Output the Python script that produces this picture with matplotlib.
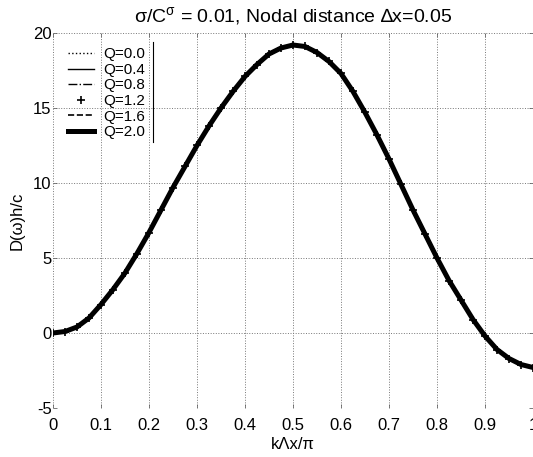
import numpy as np
import matplotlib
matplotlib.use("Agg")
import matplotlib.pyplot as plt
from matplotlib.lines import Line2D

plt.rcParams['font.family'] = ['Liberation Sans', 'DejaVu Sans']
plt.rcParams['mathtext.fontset'] = 'custom'
plt.rcParams['mathtext.rm'] = 'Liberation Sans'
plt.rcParams['mathtext.it'] = 'Liberation Sans'
plt.rcParams['axes.unicode_minus'] = False

# valeurs (toutes les courbes Q se superposent)
k_dx = [0.0, 0.025, 0.05, 0.075, 0.1, 0.125, 0.15, 0.175, 0.2, 0.225,
        0.25, 0.275, 0.3, 0.325, 0.35, 0.375, 0.4, 0.425, 0.45, 0.475,
        0.5, 0.525, 0.55, 0.575, 0.6, 0.625, 0.65, 0.675, 0.7, 0.725,
        0.75, 0.775, 0.8, 0.825, 0.85, 0.875, 0.9, 0.925, 0.95, 0.975, 1.0]
d_omega = [0.0, 0.1, 0.4, 1.0, 1.9, 2.9, 4.0, 5.3, 6.7, 8.2,
           9.7, 11.1, 12.5, 13.8, 15.0, 16.1, 17.1, 17.9, 18.6, 19.0,
           19.2, 19.1, 18.7, 18.1, 17.3, 16.1, 14.7, 13.2, 11.6, 9.9,
           8.2, 6.6, 5.0, 3.5, 2.2, 0.9, -0.2, -1.1, -1.7, -2.1, -2.3]
q_values = [0.0, 0.4, 0.8, 1.2, 1.6, 2.0]

# style de chaque courbe Q
estilos = [
    dict(ls=':', lw=1.0),
    dict(ls='-', lw=1.0),
    dict(ls='-.', lw=1.0),
    dict(ls='none', marker='+', ms=6, mew=1.2),
    dict(ls='--', lw=1.2),
    dict(ls='-', lw=3.6),
]

fig = plt.figure(figsize=(5.33, 4.57), dpi=100)
ax = fig.add_axes([53/533, 1 - 408/457, 480/533, 375/457])

for q, st in zip(q_values, estilos):
    ax.plot(k_dx, d_omega, color='black', label=f'Q={q:.1f}', **st)

ax.set_xlim(0, 1)
ax.set_ylim(-5, 20)
ax.set_xticks(np.arange(0, 1.01, 0.1))
ax.set_xticklabels(['0', '0.1', '0.2', '0.3', '0.4', '0.5', '0.6', '0.7', '0.8', '0.9', '1'])
ax.set_yticks([-5, 0, 5, 10, 15, 20])
ax.tick_params(direction='in', length=3, width=0.6, labelsize=12, color='#666666',
               top=True, right=True, pad=1)
ax.tick_params(axis='x', pad=7)
for s in ax.spines.values():
    s.set_visible(False)
ax.grid(True, linestyle=':', color='#777777', lw=0.7)

ax.set_title(r'σ/C$^\sigma$ = 0.01, Nodal distance ∆x=0.05', fontsize=14, pad=8)
ax.set_xlabel('kΛx/π', fontsize=12, labelpad=3)
ax.set_ylabel('D(ω)h/c', fontsize=12, labelpad=6)

leg = ax.legend(loc='upper left', bbox_to_anchor=(0.01, 0.99), frameon=False,
                fontsize=11, handlelength=1.7, handletextpad=0.6,
                labelspacing=0.1, borderaxespad=0.3)
# bord droit de la légende
ax.add_line(Line2D([0.208, 0.208], [0.71, 0.975], transform=ax.transAxes,
                   color='black', lw=0.8))

plt.savefig('out.png', dpi=100)
